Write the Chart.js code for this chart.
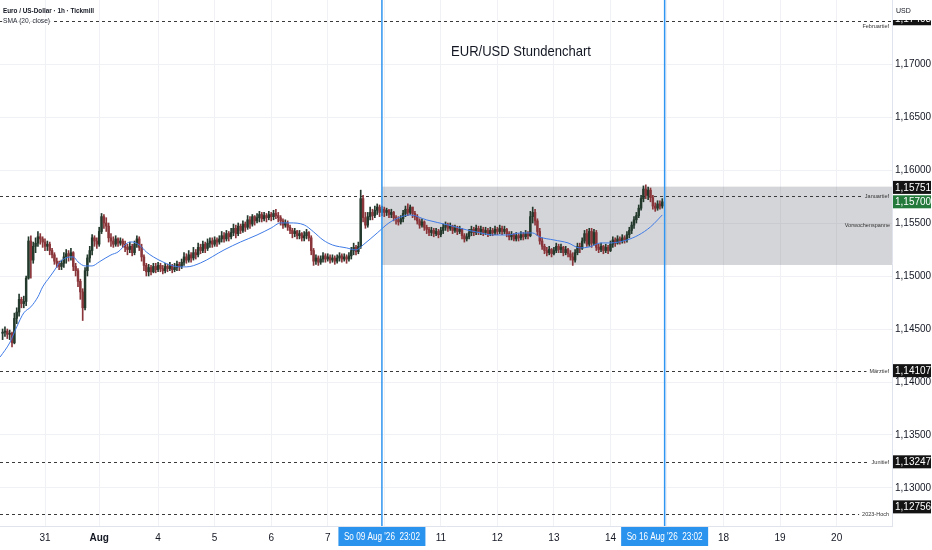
<!DOCTYPE html>
<html lang="de">
<head>
  <meta charset="UTF-8">
  <title>EUR/USD Stundenchart</title>
  <script src="https://cdn.jsdelivr.net/npm/chart.js"></script>
  <style>
    body { margin: 0; background: #ffffff; }
    #wrap { width: 932px; height: 550px; position: relative; }
  </style>
</head>
<body>
  <div id="wrap"><canvas id="fx"></canvas></div>

  <script>
    // hourly bars, Thu 30 Jul 06:00 .. Fri 14 Aug 22:00 (weekend removed)
    const firstOpen = 1.1446;
    const closes = [
      1.1447, 1.1448, 1.1445, 1.1446, 1.1437, 1.1460, 1.1466, 1.1478, 1.1474, 1.1476,
      1.1498, 1.1533, 1.1515, 1.1528, 1.1531, 1.1537, 1.1535, 1.1532, 1.1528, 1.1530,
      1.1524, 1.1520, 1.1514, 1.1512, 1.1509, 1.1512, 1.1518, 1.1521, 1.1519, 1.1522,
      1.1509, 1.1505, 1.1495, 1.1485, 1.1470, 1.1505, 1.1517, 1.1524, 1.1536, 1.1533,
      1.1530, 1.1542, 1.1556, 1.1550, 1.1547, 1.1536, 1.1533, 1.1530, 1.1535, 1.1531,
      1.1533, 1.1530, 1.1527, 1.1525, 1.1528, 1.1522, 1.1530, 1.1535, 1.1527, 1.1518,
      1.1510, 1.1504, 1.1508, 1.1504, 1.1509, 1.1506, 1.1510, 1.1507, 1.1505, 1.1509,
      1.1507, 1.1510, 1.1506, 1.1508, 1.1511, 1.1509, 1.1513, 1.1518, 1.1515, 1.1520,
      1.1517, 1.1522, 1.1520, 1.1527, 1.1524, 1.1530, 1.1526, 1.1531, 1.1533, 1.1530,
      1.1534, 1.1532, 1.1535, 1.1538, 1.1535, 1.1540, 1.1537, 1.1541, 1.1545, 1.1540,
      1.1547, 1.1543, 1.1549, 1.1546, 1.1553, 1.1549, 1.1556, 1.1552, 1.1555, 1.1558,
      1.1554, 1.1557, 1.1555, 1.1558, 1.1556, 1.1559, 1.1557, 1.1555, 1.1552, 1.1548,
      1.1550, 1.1546, 1.1543, 1.1540, 1.1542, 1.1538, 1.1540, 1.1536, 1.1538, 1.1541,
      1.1536, 1.1524, 1.1514, 1.1517, 1.1513, 1.1516, 1.1519, 1.1516, 1.1518, 1.1515,
      1.1517, 1.1514, 1.1517, 1.1519, 1.1516, 1.1518, 1.1516, 1.1519, 1.1524, 1.1527,
      1.1523, 1.1528, 1.1573, 1.1555, 1.1548, 1.1556, 1.1560, 1.1557, 1.1562, 1.1565,
      1.1560, 1.1563, 1.1560, 1.1562, 1.1558, 1.1560, 1.1555, 1.1553, 1.1551, 1.1554,
      1.1559, 1.1563, 1.1560, 1.1565, 1.1559, 1.1556, 1.1552, 1.1548, 1.1551, 1.1546,
      1.1544, 1.1541, 1.1543, 1.1540, 1.1542, 1.1539, 1.1543, 1.1546, 1.1548, 1.1545,
      1.1547, 1.1543, 1.1545, 1.1542, 1.1544, 1.1538, 1.1535, 1.1537, 1.1541, 1.1544,
      1.1541, 1.1545, 1.1542, 1.1544, 1.1541, 1.1543, 1.1540, 1.1543, 1.1541, 1.1544,
      1.1542, 1.1545, 1.1542, 1.1544, 1.1540, 1.1537, 1.1539, 1.1535, 1.1538, 1.1536,
      1.1539, 1.1537, 1.1540, 1.1538, 1.1556, 1.1560, 1.1552, 1.1542, 1.1533, 1.1528,
      1.1524, 1.1522, 1.1525, 1.1521, 1.1524, 1.1528, 1.1525, 1.1527, 1.1522, 1.1525,
      1.1521, 1.1518, 1.1515, 1.1522, 1.1528, 1.1526, 1.1533, 1.1540, 1.1530, 1.1542,
      1.1531, 1.1541, 1.1527, 1.1525, 1.1528, 1.1524, 1.1527, 1.1524, 1.1530, 1.1534,
      1.1531, 1.1535, 1.1533, 1.1536, 1.1534, 1.1539, 1.1543, 1.1548, 1.1553, 1.1557,
      1.1564, 1.1573, 1.1582, 1.1576, 1.1581, 1.1574, 1.1566, 1.1564, 1.1568, 1.1566, 1.1570
    ];
    const highs = [
      1.1450, 1.1452, 1.1450, 1.1449, 1.1447, 1.1465, 1.1470, 1.1483, 1.1480, 1.1481,
      1.1500, 1.1537, 1.1538, 1.1532, 1.1536, 1.1542, 1.1540, 1.1537, 1.1535, 1.1533,
      1.1532, 1.1526, 1.1522, 1.1517, 1.1514, 1.1515, 1.1522, 1.1525, 1.1524, 1.1526,
      1.1523, 1.1512, 1.1507, 1.1497, 1.1488, 1.1508, 1.1520, 1.1528, 1.1539, 1.1538,
      1.1536, 1.1546, 1.1559, 1.1558, 1.1555, 1.1550, 1.1540, 1.1537, 1.1538, 1.1536,
      1.1536, 1.1535, 1.1533, 1.1530, 1.1532, 1.1530, 1.1533, 1.1538, 1.1537, 1.1530,
      1.1520, 1.1512, 1.1511, 1.1510, 1.1512, 1.1512, 1.1513, 1.1512, 1.1510, 1.1512,
      1.1511, 1.1513, 1.1511, 1.1512, 1.1514, 1.1513, 1.1516, 1.1522, 1.1521, 1.1524,
      1.1522, 1.1527, 1.1525, 1.1531, 1.1530, 1.1533, 1.1532, 1.1535, 1.1536, 1.1536,
      1.1537, 1.1536, 1.1538, 1.1542, 1.1541, 1.1543, 1.1542, 1.1545, 1.1549, 1.1548,
      1.1550, 1.1549, 1.1552, 1.1551, 1.1557, 1.1556, 1.1558, 1.1557, 1.1559, 1.1561,
      1.1560, 1.1560, 1.1559, 1.1561, 1.1560, 1.1562, 1.1563, 1.1560, 1.1557, 1.1554,
      1.1553, 1.1552, 1.1548, 1.1545, 1.1545, 1.1543, 1.1543, 1.1541, 1.1542, 1.1544,
      1.1542, 1.1538, 1.1526, 1.1520, 1.1519, 1.1519, 1.1522, 1.1521, 1.1521, 1.1520,
      1.1520, 1.1519, 1.1520, 1.1522, 1.1521, 1.1521, 1.1520, 1.1522, 1.1527, 1.1531,
      1.1529, 1.1532, 1.1581, 1.1576, 1.1560, 1.1560, 1.1565, 1.1563, 1.1566, 1.1568,
      1.1567, 1.1566, 1.1565, 1.1564, 1.1563, 1.1563, 1.1561, 1.1557, 1.1556, 1.1557,
      1.1562, 1.1566, 1.1568, 1.1567, 1.1565, 1.1561, 1.1558, 1.1554, 1.1554, 1.1552,
      1.1548, 1.1546, 1.1546, 1.1545, 1.1545, 1.1544, 1.1546, 1.1549, 1.1551, 1.1550,
      1.1550, 1.1548, 1.1548, 1.1547, 1.1547, 1.1545, 1.1540, 1.1540, 1.1544, 1.1547,
      1.1546, 1.1548, 1.1547, 1.1547, 1.1546, 1.1546, 1.1545, 1.1546, 1.1545, 1.1547,
      1.1546, 1.1548, 1.1547, 1.1547, 1.1545, 1.1542, 1.1542, 1.1540, 1.1541, 1.1540,
      1.1542, 1.1541, 1.1543, 1.1542, 1.1561, 1.1565, 1.1563, 1.1554, 1.1545, 1.1536,
      1.1530, 1.1527, 1.1528, 1.1526, 1.1527, 1.1531, 1.1530, 1.1530, 1.1528, 1.1528,
      1.1526, 1.1524, 1.1522, 1.1525, 1.1531, 1.1531, 1.1536, 1.1543, 1.1544, 1.1545,
      1.1545, 1.1544, 1.1543, 1.1530, 1.1531, 1.1529, 1.1530, 1.1529, 1.1533, 1.1537,
      1.1536, 1.1538, 1.1537, 1.1539, 1.1538, 1.1542, 1.1546, 1.1551, 1.1556, 1.1560,
      1.1567, 1.1576, 1.1585, 1.1586, 1.1584, 1.1583, 1.1576, 1.1569, 1.1571, 1.1571, 1.1573
    ];
    const lows = [
      1.1440, 1.1443, 1.1441, 1.1440, 1.1433, 1.1436, 1.1455, 1.1462, 1.1470, 1.1470,
      1.1472, 1.1497, 1.1498, 1.1512, 1.1522, 1.1528, 1.1530, 1.1527, 1.1524, 1.1524,
      1.1520, 1.1517, 1.1511, 1.1508, 1.1506, 1.1506, 1.1508, 1.1512, 1.1514, 1.1515,
      1.1505, 1.1500, 1.1490, 1.1478, 1.1458, 1.1468, 1.1500, 1.1513, 1.1520, 1.1528,
      1.1526, 1.1528, 1.1540, 1.1545, 1.1542, 1.1532, 1.1528, 1.1527, 1.1528, 1.1528,
      1.1529, 1.1527, 1.1523, 1.1520, 1.1522, 1.1519, 1.1520, 1.1527, 1.1524, 1.1514,
      1.1505, 1.1500, 1.1500, 1.1501, 1.1503, 1.1503, 1.1504, 1.1504, 1.1502, 1.1503,
      1.1504, 1.1505, 1.1503, 1.1504, 1.1505, 1.1505, 1.1507, 1.1510, 1.1512, 1.1513,
      1.1513, 1.1515, 1.1516, 1.1518, 1.1521, 1.1522, 1.1522, 1.1524, 1.1527, 1.1527,
      1.1528, 1.1528, 1.1530, 1.1532, 1.1532, 1.1533, 1.1533, 1.1535, 1.1538, 1.1536,
      1.1538, 1.1540, 1.1541, 1.1542, 1.1544, 1.1545, 1.1547, 1.1548, 1.1550, 1.1551,
      1.1551, 1.1552, 1.1551, 1.1553, 1.1552, 1.1553, 1.1554, 1.1551, 1.1548, 1.1545,
      1.1546, 1.1543, 1.1540, 1.1536, 1.1537, 1.1535, 1.1535, 1.1533, 1.1533, 1.1535,
      1.1533, 1.1520, 1.1510, 1.1511, 1.1510, 1.1511, 1.1513, 1.1513, 1.1514, 1.1512,
      1.1513, 1.1511, 1.1512, 1.1514, 1.1513, 1.1514, 1.1512, 1.1514, 1.1516, 1.1520,
      1.1520, 1.1521, 1.1526, 1.1551, 1.1545, 1.1546, 1.1553, 1.1553, 1.1555, 1.1558,
      1.1556, 1.1557, 1.1556, 1.1557, 1.1555, 1.1555, 1.1552, 1.1549, 1.1548, 1.1549,
      1.1551, 1.1556, 1.1557, 1.1558, 1.1555, 1.1553, 1.1549, 1.1545, 1.1546, 1.1543,
      1.1540, 1.1538, 1.1538, 1.1537, 1.1538, 1.1536, 1.1537, 1.1540, 1.1543, 1.1542,
      1.1543, 1.1540, 1.1541, 1.1539, 1.1540, 1.1535, 1.1532, 1.1533, 1.1535, 1.1538,
      1.1538, 1.1539, 1.1539, 1.1539, 1.1538, 1.1539, 1.1537, 1.1538, 1.1538, 1.1539,
      1.1539, 1.1540, 1.1539, 1.1540, 1.1537, 1.1534, 1.1534, 1.1533, 1.1533, 1.1533,
      1.1534, 1.1534, 1.1535, 1.1535, 1.1537, 1.1550, 1.1548, 1.1538, 1.1530, 1.1525,
      1.1521, 1.1519, 1.1520, 1.1518, 1.1520, 1.1522, 1.1522, 1.1522, 1.1519, 1.1520,
      1.1518, 1.1515, 1.1510, 1.1513, 1.1520, 1.1522, 1.1525, 1.1531, 1.1528, 1.1528,
      1.1527, 1.1529, 1.1524, 1.1522, 1.1523, 1.1521, 1.1522, 1.1521, 1.1523, 1.1527,
      1.1528, 1.1530, 1.1530, 1.1531, 1.1531, 1.1532, 1.1536, 1.1540, 1.1545, 1.1550,
      1.1555, 1.1562, 1.1570, 1.1573, 1.1572, 1.1570, 1.1563, 1.1561, 1.1562, 1.1563, 1.1564
    ];

    // SMA(20, close) at these bar indices
    const smaIdx = [-1, 3, 6, 9, 12, 15, 17, 20, 23, 24, 27, 30, 32, 35, 38, 41, 46, 49, 53, 55,
      58, 61, 64, 68, 71, 75, 78, 84, 94, 101, 108, 114, 118, 122, 128, 132, 136, 140, 146, 150,
      153, 159, 164, 169, 173, 180, 189, 197, 203, 208, 214, 220, 225, 228, 234, 240, 245, 249, 254, 258,
      265, 270, 275, 278, 280];
    const smaVals = [1.14237, 1.14369, 1.14520, 1.14652, 1.14709, 1.14803, 1.14897, 1.14991, 1.15086, 1.15123,
      1.15171, 1.15180, 1.15133, 1.15095, 1.15095, 1.15133, 1.15199, 1.15227, 1.15312, 1.15321,
      1.15293, 1.15227, 1.15180, 1.15133, 1.15105, 1.15086, 1.15086, 1.15123, 1.15246, 1.15321,
      1.15387, 1.15453, 1.15501, 1.15501, 1.15482, 1.15416, 1.15340, 1.15293, 1.15265, 1.15246,
      1.15293, 1.15406, 1.15501, 1.15557, 1.15576, 1.15529, 1.15482, 1.15435, 1.15406, 1.15387,
      1.15387, 1.15406, 1.15406, 1.15368, 1.15340, 1.15312, 1.15265, 1.15274, 1.15312, 1.15312,
      1.15340, 1.15387, 1.15463, 1.15529, 1.15576];

    // x axis: bar index at midnight of each labelled day
    const dayIdx = [18, 41, 66, 90, 114, 138, 162, 186, 210, 234, 258, 282, 306, 330, 354];
    const dayLabels = ['31', 'Aug', '4', '5', '6', '7', '10', '11', '12', '13', '14', '17', '18', '19', '20'];
    const priceTicks = [1.13, 1.135, 1.14, 1.145, 1.15, 1.155, 1.16, 1.165, 1.17];

    const levelNames = ['Februartief', 'Januartief', 'Märztief', 'Junitief', '2023-Hoch'];
    const levelValues = [1.17408, 1.15751, 1.14107, 1.13247, 1.12756];
    const lastPrice = 1.15700;

    const rangeName = 'Vorwochenspanne';
    const rangeHigh = 1.15843;
    const rangeLow = 1.15104;
    const rangeStart = 161;

    const markerIdx = [161, 281];
    const markerLabels = ["So 09 Aug '26  23:02", "So 16 Aug '26  23:02"];

    const UP = '#22392c', DOWN = '#8a3539';
    const FONT = "'Liberation Sans', Arial, sans-serif";
    const fmt = v => v.toFixed(5).replace('.', ',');

    const opens = closes.map((c, i) => i ? closes[i - 1] : firstOpen);
    const colors = closes.map((c, i) => c >= opens[i] ? UP : DOWN);
    const wicks = closes.map((c, i) => ({ x: i, y: [lows[i], highs[i]] }));
    const bodies = closes.map((c, i) => ({ x: i, y: [opens[i], c] }));
    const sma = smaIdx.map((x, k) => ({ x: x, y: smaVals[k] }));

    // shifts of the price boxes on the axis so they do not overlap
    const boxShift = [-2, -9, 0, 0, -7];

    const drawings = {
      id: 'drawings',
      beforeDatasetsDraw(chart) {
        const { ctx, chartArea: a, scales: { x, y } } = chart;
        ctx.save();
        // previous week range
        const top = y.getPixelForValue(rangeHigh), bot = y.getPixelForValue(rangeLow);
        const left = x.getPixelForValue(rangeStart);
        ctx.fillStyle = 'rgba(120,123,134,0.32)';
        ctx.fillRect(left, top, a.right - left, bot - top);
        ctx.font = '5.5px ' + FONT;
        ctx.fillStyle = '#333';
        ctx.textAlign = 'right';
        ctx.textBaseline = 'middle';
        ctx.fillText(rangeName, a.right - 2, (top + bot) / 2);

        // key levels
        levelNames.forEach((name, k) => {
          const py = Math.round(y.getPixelForValue(levelValues[k])) + 0.5;
          const tw = ctx.measureText(name).width;
          const below = k === 0;
          const end = below ? a.right : a.right - tw - 6;
          ctx.strokeStyle = '#3a3a3a';
          ctx.lineWidth = 1;
          ctx.setLineDash([3, 3]);
          ctx.beginPath();
          ctx.moveTo(a.left, py);
          ctx.lineTo(end, py);
          ctx.stroke();
          ctx.setLineDash([]);
          ctx.fillStyle = '#333';
          ctx.fillText(name, a.right - 3, below ? py + 5 : py);
        });
        ctx.restore();
      },
      afterDatasetsDraw(chart) {
        const { ctx, chartArea: a, scales: { x } } = chart;
        ctx.save();
        ctx.strokeStyle = '#2f95f0';
        ctx.lineWidth = 1.5;
        markerIdx.forEach(v => {
          const px = x.getPixelForValue(v);
          ctx.beginPath();
          ctx.moveTo(px, 0);
          ctx.lineTo(px, a.bottom);
          ctx.stroke();
        });
        ctx.restore();
      },
      afterDraw(chart) {
        const { ctx, chartArea: a, scales: { x, y } } = chart;
        ctx.save();
        ctx.textBaseline = 'middle';

        // price boxes on the right axis
        ctx.font = '10px ' + FONT;
        ctx.textAlign = 'left';
        const box = (val, py, bg) => {
          ctx.fillStyle = bg;
          ctx.fillRect(a.right + 1, py - 6.5, 38, 13);
          ctx.fillStyle = '#ffffff';
          ctx.fillText(fmt(val), a.right + 3, py + 0.5);
        };
        levelValues.forEach((v, k) => box(v, y.getPixelForValue(v) + boxShift[k], '#131313'));
        box(lastPrice, y.getPixelForValue(lastPrice), '#237a3b');

        // currency header
        ctx.fillStyle = '#ffffff';
        ctx.fillRect(a.right + 1, 0, chart.width - a.right - 1, 20);
        ctx.fillStyle = '#131722';
        ctx.font = '7px ' + FONT;
        ctx.fillText('USD', a.right + 4, 11);

        // date boxes on the time axis
        ctx.font = '10px ' + FONT;
        ctx.textAlign = 'center';
        markerIdx.forEach((v, k) => {
          const px = x.getPixelForValue(v);
          ctx.fillStyle = '#2a93ee';
          ctx.fillRect(px - 43.5, a.bottom + 1, 87, 19);
          ctx.fillStyle = '#ffffff';
          ctx.fillText(markerLabels[k], px, a.bottom + 11, 76);
        });

        // chart title and symbol header
        ctx.fillStyle = '#131722';
        ctx.font = '15px ' + FONT;
        ctx.fillText('EUR/USD Stundenchart', 521, 52, 140);
        ctx.textAlign = 'left';
        ctx.font = 'bold 8px ' + FONT;
        ctx.fillText('Euro / US-Dollar · 1h · Tickmill', 3, 11, 91);
        ctx.fillStyle = 'rgba(255,255,255,0.85)';
        ctx.fillRect(2, 17, 49, 8);
        ctx.font = '7px ' + FONT;
        ctx.fillStyle = '#2a2e39';
        ctx.fillText('SMA (20, close)', 3, 21, 47);
        ctx.restore();
      }
    };

    new Chart(document.getElementById('fx'), {
      type: 'bar',
      data: {
        datasets: [
          {
            type: 'line',
            data: sma,
            borderColor: '#3f7be6',
            borderWidth: 1,
            pointRadius: 0,
            cubicInterpolationMode: 'monotone',
            order: 1
          },
          {
            data: bodies,
            backgroundColor: colors,
            barThickness: 1.8,
            minBarLength: 1,
            grouped: false,
            order: 2
          },
          {
            data: wicks,
            backgroundColor: colors,
            barThickness: 1,
            grouped: false,
            order: 3
          }
        ]
      },
      options: {
        responsive: true,
        maintainAspectRatio: false,
        animation: false,
        events: [],
        layout: { padding: 0 },
        plugins: {
          legend: { display: false },
          tooltip: { enabled: false }
        },
        scales: {
          x: {
            type: 'linear',
            min: -1.1,
            max: 377.5,
            offset: false,
            grid: { color: '#f0f1f4', offset: false, drawTicks: false },
            border: { color: '#e0e3eb' },
            afterBuildTicks: s => { s.ticks = dayIdx.map(v => ({ value: v })); },
            afterFit: s => { s.height = 24; s.paddingLeft = 0; s.paddingRight = 0; },
            ticks: {
              autoSkip: false,
              maxRotation: 0,
              padding: 6,
              color: '#131722',
              font: c => ({ family: FONT, size: 10, weight: dayLabels[c.index] === 'Aug' ? 'bold' : 'normal' }),
              callback: v => dayLabels[dayIdx.indexOf(v)]
            }
          },
          y: {
            position: 'right',
            min: 1.126415,
            max: 1.176038,
            grid: { color: '#f0f1f4', drawTicks: false },
            border: { color: '#e0e3eb' },
            afterBuildTicks: s => { s.ticks = priceTicks.map(v => ({ value: v })); },
            afterFit: s => { s.width = 40; s.paddingTop = 0; s.paddingBottom = 0; },
            ticks: {
              padding: 3,
              color: '#131722',
              font: { family: FONT, size: 10 },
              callback: v => fmt(v)
            }
          }
        }
      },
      plugins: [drawings]
    });
  </script>
</body>
</html>
